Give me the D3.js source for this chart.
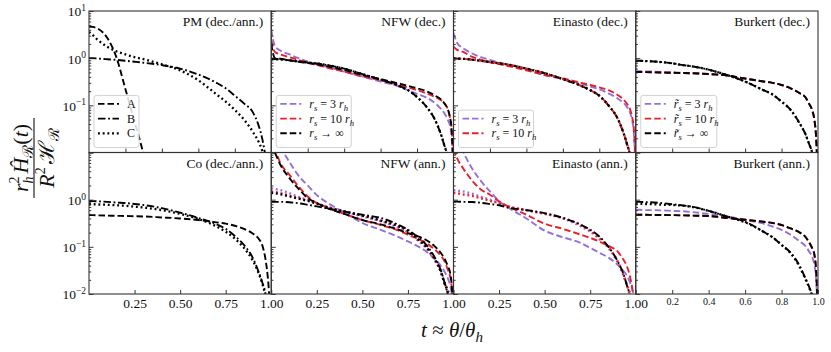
<!DOCTYPE html>
<html><head><meta charset="utf-8">
<script src="https://cdn.jsdelivr.net/npm/d3@7"></script>
<style>
body{margin:0;background:#fff}
svg{display:block;background:#fff}
svg text{font-family:"Liberation Serif","Times New Roman","DejaVu Serif",serif !important;fill:#111}
</style>
</head><body>
<svg id="c" width="831" height="352" font-family="Liberation Serif, serif"></svg>
<script>
// ---------------- DATA ----------------
const T = [0,0.02,0.05,0.1,0.15,0.2,0.25,0.3,0.4,0.5,0.6,0.7,0.75,0.8,0.85,0.9,0.93,0.95,0.97,0.98,0.99,1.0];

// PM (dec./ann.)
const pmA = [4.7,4.6,4.2,2.7,1.05,0.22,0.045,0.009,0.0001,null,null,null,null,null,null,null,null,null,null,null,null,null];
const pmB = [1.0,1.0,0.98,0.95,0.92,0.88,0.84,0.8,0.71,0.6,0.45,0.3,0.23,0.16,0.11,0.07,0.038,0.02,0.007,0.003,0.001,null];
const pmC = [3.6,3.1,2.4,1.75,1.4,1.2,1.05,0.95,0.74,0.55,0.34,0.17,0.12,0.08,0.05,0.027,0.017,0.011,0.005,0.002,null,null];
// Co (dec./ann.)
const coA = [0.47,0.47,0.465,0.46,0.455,0.45,0.445,0.44,0.42,0.4,0.37,0.33,0.31,0.28,0.24,0.19,0.15,0.11,0.05,0.025,0.008,0.001];
const coB = [0.94,0.93,0.92,0.9,0.87,0.85,0.81,0.77,0.66,0.53,0.41,0.3,0.24,0.17,0.11,0.057,0.03,0.018,0.009,0.004,0.001,null];
const coC = [0.8,0.8,0.79,0.78,0.76,0.74,0.71,0.68,0.6,0.5,0.39,0.27,0.21,0.15,0.095,0.05,0.028,0.017,0.008,0.004,0.001,null];
// NFW (dec.)
const nfwDecPA = [4.0,1.8,1.45,1.2,1.0,0.85,0.74,0.66,0.52,0.41,0.32,0.25,0.21,0.175,0.148,0.11,0.085,0.068,0.048,0.038,0.02,0.003];
const nfwDecRA = [2.4,1.35,1.2,1.05,0.92,0.8,0.72,0.64,0.52,0.41,0.34,0.27,0.24,0.21,0.18,0.15,0.13,0.11,0.08,0.057,0.03,0.004];
const nfwDecKA = [2.0,1.0,0.97,0.9,0.84,0.79,0.74,0.68,0.56,0.44,0.36,0.29,0.26,0.23,0.2,0.16,0.135,0.11,0.08,0.057,0.03,0.004];
const nfwDecKB = [0.97,0.96,0.94,0.9,0.85,0.81,0.77,0.72,0.6,0.46,0.35,0.26,0.21,0.15,0.095,0.048,0.025,0.014,0.007,0.003,0.001,null];
// Einasto (dec.)
const einDecPA = [3.4,2.1,1.65,1.27,1.05,0.92,0.8,0.72,0.57,0.44,0.36,0.29,0.25,0.22,0.18,0.14,0.115,0.094,0.068,0.049,0.025,0.003];
const einDecRA = [1.75,1.5,1.37,1.08,0.93,0.82,0.75,0.68,0.55,0.44,0.37,0.3,0.27,0.24,0.21,0.166,0.135,0.11,0.08,0.057,0.03,0.004];
const einDecKB = [0.99,0.98,0.97,0.93,0.88,0.83,0.78,0.73,0.6,0.48,0.36,0.26,0.21,0.16,0.1,0.053,0.028,0.016,0.008,0.004,0.001,null];
// Burkert (dec.)
const burDecPA = [0.53,0.53,0.525,0.52,0.51,0.5,0.49,0.485,0.46,0.43,0.37,0.32,0.3,0.27,0.23,0.18,0.15,0.11,0.075,0.05,0.02,0.002];
const burDecKA = [0.51,0.51,0.505,0.5,0.495,0.49,0.485,0.48,0.46,0.43,0.37,0.32,0.3,0.27,0.23,0.18,0.15,0.11,0.075,0.05,0.02,0.002];
const burDecKB = [0.88,0.88,0.87,0.85,0.82,0.78,0.72,0.68,0.57,0.44,0.32,0.21,0.17,0.12,0.08,0.041,0.025,0.0156,0.009,0.005,0.002,null];
// NFW (ann.)
const nfwAnnPA = [30,22,13,6.3,3.2,2.0,1.25,0.9,0.54,0.32,0.23,0.16,0.13,0.105,0.08,0.053,0.04,0.03,0.021,0.016,0.01,0.002];
const nfwAnnRA = [20,12,6,3.36,1.9,1.17,0.85,0.7,0.5,0.37,0.29,0.22,0.18,0.15,0.12,0.086,0.065,0.05,0.032,0.025,0.014,0.002];
const nfwAnnKA = [15,10,5.5,2.86,1.7,1.08,0.85,0.68,0.5,0.37,0.3,0.23,0.195,0.17,0.14,0.1,0.075,0.057,0.038,0.03,0.016,0.003];
const nfwAnnKB = [0.91,0.9,0.9,0.88,0.84,0.78,0.72,0.66,0.56,0.48,0.41,0.29,0.23,0.166,0.11,0.057,0.032,0.018,0.009,0.005,0.002,null];
const nfwAnnPC = [1.75,1.68,1.6,1.37,1.15,0.99,0.84,0.72,0.56,0.44,0.35,0.25,0.2,0.14,0.094,0.049,0.03,0.018,0.012,0.01,0.006,null];
const nfwAnnRC = [1.5,1.45,1.38,1.22,1.08,0.96,0.83,0.71,0.57,0.46,0.36,0.27,0.22,0.15,0.1,0.052,0.03,0.017,0.01,0.005,0.002,null];
const nfwAnnKC = [1.4,1.37,1.3,1.17,1.05,0.94,0.82,0.7,0.56,0.46,0.36,0.27,0.22,0.15,0.1,0.053,0.03,0.017,0.01,0.005,0.002,null];
// Einasto (ann.)
const einAnnPA = [30,20,11,4.7,2.5,1.5,0.93,0.68,0.4,0.22,0.16,0.12,0.095,0.075,0.059,0.042,0.032,0.025,0.017,0.013,0.008,0.002];
const einAnnRA = [12,7.5,4.8,2.6,1.65,1.27,0.92,0.72,0.48,0.31,0.24,0.18,0.155,0.13,0.105,0.08,0.055,0.04,0.022,0.014,0.007,0.002];
const einAnnKB = [0.91,0.91,0.9,0.89,0.86,0.81,0.76,0.68,0.6,0.52,0.41,0.29,0.23,0.166,0.1,0.05,0.028,0.016,0.008,0.004,0.001,null];
const einAnnPC = [1.6,1.55,1.5,1.35,1.15,1.0,0.85,0.72,0.6,0.5,0.4,0.27,0.21,0.145,0.094,0.047,0.026,0.016,0.01,0.006,0.002,null];
const einAnnRC = [1.4,1.37,1.3,1.2,1.07,0.95,0.84,0.72,0.6,0.5,0.41,0.29,0.22,0.155,0.1,0.05,0.027,0.016,0.008,0.004,0.001,null];
// Burkert (ann.)
const burAnnPA = [0.61,0.61,0.6,0.6,0.59,0.58,0.57,0.55,0.5,0.44,0.375,0.31,0.27,0.23,0.18,0.13,0.105,0.081,0.058,0.042,0.02,0.002];
const burAnnKA = [0.48,0.48,0.478,0.475,0.472,0.47,0.465,0.46,0.45,0.41,0.375,0.34,0.32,0.29,0.245,0.2,0.165,0.127,0.09,0.069,0.03,0.003];
const burAnnKB = [0.91,0.9,0.89,0.87,0.84,0.8,0.76,0.72,0.58,0.44,0.34,0.21,0.16,0.11,0.075,0.039,0.022,0.0146,0.008,0.004,0.001,null];
const burAnnKC = [0.82,0.82,0.81,0.8,0.78,0.77,0.75,0.71,0.58,0.44,0.33,0.21,0.16,0.11,0.073,0.037,0.021,0.014,0.008,0.004,0.001,null];

// Tick labels
const yLabelsTop = [[10,"1"],[1,"0"],[0.1,"\u22121"]];
const yLabelsBottom = [[1,"0"],[0.1,"\u22121"],[0.01,"\u22122"]];
const xTicksQuarter = [0.25,0.5,0.75,1.0];
const xLabelsQuarter = ["0.25","0.50","0.75","1.00"];
const xTicksFifth = [0.2,0.4,0.6,0.8,1.0];
const xLabelsFifth = ["0.2","0.4","0.6","0.8","1.0"];

const titles = ["PM (dec./ann.)","NFW (dec.)","Einasto (dec.)","Burkert (dec.)",
                "Co (dec./ann.)","NFW (ann.)","Einasto (ann.)","Burkert (ann.)"];

// Legend labels: tokens [kind,text]
const legPM = [["A","K","A"],["B","K","B"],["C","K","C"]];
const legNFW = [[[["i","r"],["sub","s"],["n"," = 3 "],["i","r"],["sub","h"]],"P","A"],
                [[["i","r"],["sub","s"],["n"," = 10 "],["i","r"],["sub","h"]],"R","A"],
                [[["i","r"],["sub","s"],["n"," \u2192 \u221E"]],"K","A"]];
const legEin = legNFW.slice(0,2);
const legBur = [[[["i","r\u0303"],["sub","s"],["n"," = 3 "],["i","r"],["sub","h"]],"P","A"],
                [[["i","r\u0303"],["sub","s"],["n"," = 10 "],["i","r"],["sub","h"]],"R","A"],
                [[["i","r\u0303"],["sub","s"],["n"," \u2192 \u221E"]],"K","A"]];

const panels = [
  {row:0,col:0,series:[[pmA,"K","A"],[pmB,"K","B"],[pmC,"K","C"]],legend:legPM,legW:45},
  {row:0,col:1,series:[[nfwDecPA,"P","A"],[nfwDecRA,"R","A"],[nfwDecKA,"K","A"],[nfwDecKB,"K","B"],[nfwDecKB,"K","C"]],legend:legNFW,legW:75},
  {row:0,col:2,series:[[einDecPA,"P","A"],[einDecRA,"R","A"],[einDecKB,"K","B"],[einDecKB,"R","B"],[einDecKB,"K","C"]],legend:legEin,legW:75},
  {row:0,col:3,series:[[burDecPA,"P","A"],[burDecKA,"R","A"],[burDecKA,"K","A"],[burDecKB,"K","B"],[burDecKB,"K","C"]],legend:legBur,legW:76},
  {row:1,col:0,series:[[coA,"K","A"],[coB,"K","B"],[coC,"K","C"]]},
  {row:1,col:1,series:[[nfwAnnPA,"P","A"],[nfwAnnPC,"P","C"],[nfwAnnRA,"R","A"],[nfwAnnRC,"R","C"],[nfwAnnKA,"K","A"],[nfwAnnKB,"K","B"],[nfwAnnKC,"K","C"]]},
  {row:1,col:2,series:[[einAnnPA,"P","A"],[einAnnPC,"P","C"],[einAnnRA,"R","A"],[einAnnRC,"R","C"],[einAnnKB,"K","B"]]},
  {row:1,col:3,series:[[burAnnPA,"P","A"],[burAnnKA,"R","A"],[burAnnKA,"K","A"],[burAnnKB,"K","B"],[burAnnKC,"K","C"]]}
];

// ---------------- LAYOUT / STYLE ----------------
const FONT = "Liberation Serif, Times New Roman, DejaVu Serif, serif";
const L = 89, TOP = 11, PW = 182.25, PH = 141.5;
const colors = {P:"#9370db", R:"#e8202a", K:"#000"};
const dashes = {A:"6.5,3", B:"7.5,2.6,1.8,2.6", C:"1.9,2.8"};
const widths = {A:1.9, B:1.9, C:2.3};
const svg = d3.select("#c");
const defs = svg.append("defs");
const x = d3.scaleLinear().domain([0,1]).range([0,PW]);
const y = d3.scaleLog().domain([0.01,10]).range([PH,0]);
const line = d3.line().defined(d=>d[1]!=null).x(d=>x(d[0])).y(d=>y(d[1])).curve(d3.curveMonotoneX);

const majors = [0.01,0.1,1,10];
const minors = [];
[0.01,0.1,1].forEach(dec=>{ for(let k=2;k<=9;k++) minors.push(dec*k); });

function mathText(sel, tokens, fs){
  let base = 0;
  tokens.forEach(([kind,txt])=>{
    const ts = sel.append("tspan").text(txt);
    if(kind==="sub"){ ts.attr("font-size",fs*0.72).attr("font-style","italic").attr("dy",(3-base)); base=3; }
    else { ts.attr("font-size",fs).attr("dy",(0-base)); base=0; if(kind==="i") ts.attr("font-style","italic"); }
  });
}

panels.forEach((p,i)=>{
  const g = svg.append("g").attr("transform",`translate(${L+p.col*PW},${TOP+p.row*PH})`);
  defs.append("clipPath").attr("id","clip"+i).append("rect").attr("width",PW).attr("height",PH);
  const plot = g.append("g").attr("clip-path",`url(#clip${i})`);
  p.series.forEach(([vals,c,s],j)=>{
    plot.append("path").datum(T.map((t,k)=>[t,vals[k]]))
      .attr("d",line).attr("fill","none")
      .attr("stroke",colors[c]).attr("stroke-width",widths[s])
      .attr("stroke-dasharray",dashes[s])
      .attr("stroke-dashoffset",(c==="R"&&s==="B"&&p.col===2)?4:0);
  });

  // minor y ticks
  const ym = g.append("g").call(d3.axisLeft(y).tickValues(minors).tickSize(-2.2).tickFormat(""));
  ym.select(".domain").remove();
  // major y ticks (+ labels on first column)
  const labs = p.col===0 ? (p.row===0 ? yLabelsTop : yLabelsBottom) : [];
  const yM = g.append("g").call(d3.axisLeft(y).tickValues(majors).tickSize(-4.5).tickPadding(3).tickFormat(()=>""));
  yM.select(".domain").remove();
  yM.selectAll(".tick").each(function(d){
    const lab = labs.find(l=>Math.abs(l[0]-d)<1e-9);
    const t = d3.select(this).select("text");
    if(!lab){ t.remove(); return; }
    t.attr("font-size",13.5).attr("fill","#111").attr("dy","0.36em");
    t.append("tspan").text("10");
    t.append("tspan").attr("font-size",9.5).attr("dy","-0.55em").text(lab[1]);
  });

  // x ticks
  let tv, tl, fs;
  if(p.row===0){ tv=[0.2,0.4,0.6,0.8]; tl=null; }
  else if(p.col===3){ tv=xTicksFifth; tl=xLabelsFifth; fs=10; }
  else { tv=xTicksQuarter; tl=xLabelsQuarter; fs=13.5; }
  const xa = g.append("g").attr("transform",`translate(0,${PH})`)
    .call(d3.axisBottom(x).tickValues(tv).tickSize(-4).tickPadding(p.col===3?3.5:4)
      .tickFormat((d,k)=> tl ? tl[k] : ""));
  xa.select(".domain").remove();
  xa.selectAll("text").attr("font-size",fs||10).attr("fill","#111");
  g.selectAll(".tick line").attr("stroke","#222").attr("stroke-width",0.9);

  // frame
  g.append("rect").attr("width",PW).attr("height",PH).attr("fill","none").attr("stroke","#333").attr("stroke-width",1.1);

  // title
  g.append("text").attr("x",PW-8).attr("y",15).attr("text-anchor","end").attr("font-size",13.5).text(titles[i]);

  // legend
  if(p.legend){
    const n = p.legend.length, rowH = 14.7;
    const boxH = 8 + n*rowH, boxY = 136.5 - boxH;
    const lg = g.append("g");
    lg.append("rect").attr("x",5).attr("y",boxY).attr("width",p.legW).attr("height",boxH)
      .attr("rx",2.5).attr("fill","#fff").attr("fill-opacity",0.85).attr("stroke","#cccccc").attr("stroke-width",0.9);
    p.legend.forEach(([lab,c,s],k)=>{
      const yy = boxY + 8.5 + k*rowH;
      lg.append("line").attr("x1",9).attr("x2",30).attr("y1",yy).attr("y2",yy)
        .attr("stroke",colors[c]).attr("stroke-width",widths[s]).attr("stroke-dasharray",dashes[s]);
      const tx = lg.append("text").attr("x",38).attr("y",yy+4).attr("font-size",12);
      if(typeof lab==="string") tx.text(lab); else mathText(tx, lab, 12);
    });
  }
});

// y-axis label (fraction)
const yl = svg.append("g").attr("transform","translate(34,158) rotate(-90)");
const num = yl.append("text").attr("x",0).attr("y",-6).attr("text-anchor","middle").attr("font-size",22);
num.append("tspan").attr("font-style","italic").text("r");
num.append("tspan").attr("font-size",14).attr("dy",-9).text("2");
num.append("tspan").attr("font-size",14).attr("font-style","italic").attr("dx",-7).attr("dy",14).text("h");
num.append("tspan").attr("font-style","italic").attr("dx",3).attr("dy",-5).text("\u0124");
num.append("tspan").attr("font-size",15).attr("dy",5).text("\u211B");
num.append("tspan").attr("dy",-5).text("(");
num.append("tspan").attr("font-style","italic").text("t");
num.append("tspan").text(")");
yl.append("line").attr("x1",-40).attr("x2",40).attr("y1",0).attr("y2",0).attr("stroke","#111").attr("stroke-width",1.1);
const den = yl.append("text").attr("x",0).attr("y",20).attr("text-anchor","middle").attr("font-size",22);
den.append("tspan").attr("font-style","italic").text("R");
den.append("tspan").attr("font-size",14).attr("dy",-9).text("2");
den.append("tspan").attr("dx",3).attr("dy",9).text("\u210B");
den.append("tspan").attr("font-size",15).attr("dy",5).text("\u211B");

// x-axis label
const xl = svg.append("text").attr("x",452).attr("y",337).attr("text-anchor","middle").attr("font-size",21);
xl.append("tspan").attr("font-style","italic").text("t");
xl.append("tspan").text(" \u2248 ");
xl.append("tspan").attr("font-style","italic").text("\u03B8");
xl.append("tspan").text("/");
xl.append("tspan").attr("font-style","italic").text("\u03B8");
xl.append("tspan").attr("font-style","italic").attr("font-size",15).attr("dy",5).text("h");

svg.selectAll("text").attr("font-family",FONT);
</script>
</body></html>
